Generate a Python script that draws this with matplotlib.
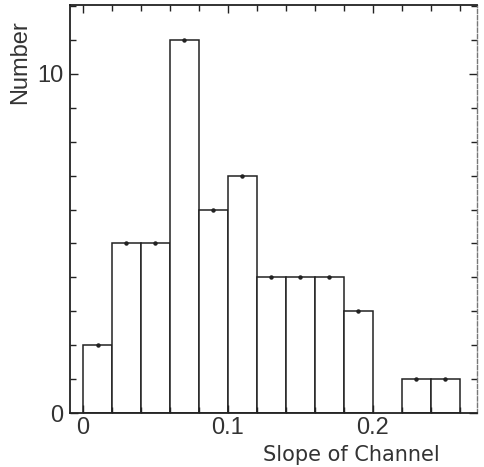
import matplotlib.pyplot as plt
import numpy as np

# histogram of channel slopes
bin_edges = [0.0, 0.02, 0.04, 0.06, 0.08, 0.10, 0.12, 0.14, 0.16, 0.18, 0.20, 0.22, 0.24, 0.26]
counts = [2, 5, 5, 11, 6, 7, 4, 4, 4, 3, 0, 1, 1]
xtick_vals = [0, 0.1, 0.2]
xtick_labels = ["0", "0.1", "0.2"]
ytick_vals = [0, 10]
ytick_labels = ["0", "10"]

edges = np.array(bin_edges)
lefts = edges[:-1]
widths = np.diff(edges)
centers = lefts + widths / 2
counts = np.array(counts)

fig = plt.figure(figsize=(4.85, 4.67), dpi=100)
ax = fig.add_axes([0.1443, 0.1156, 0.8392, 0.8737])

ink = "#222222"
nz = counts > 0
ax.bar(lefts[nz], counts[nz], width=widths[nz], align="edge",
       facecolor="white", edgecolor=ink, linewidth=1.1)
ax.plot(centers[nz], counts[nz], ls="none", marker="o", ms=2.2, color=ink)

ax.set_xlim(-0.009, 0.272)
ax.set_ylim(0, 12.03)

ax.set_xticks(xtick_vals)
ax.set_xticklabels(xtick_labels)
ax.set_xticks(bin_edges, minor=True)
ax.set_yticks(ytick_vals)
ax.set_yticklabels(ytick_labels)
ax.set_yticks(np.arange(0, 13, 1), minor=True)

ax.tick_params(which="both", direction="in", top=True, right=True,
               color=ink, width=1.0)
ax.tick_params(which="major", length=6, labelsize=17, labelcolor="#333333",
               labelfontfamily="Liberation Sans")
ax.tick_params(axis="x", which="major", pad=3)
ax.tick_params(axis="y", which="major", pad=5)
ax.tick_params(which="minor", length=4)

for side in ["left", "bottom", "top"]:
    ax.spines[side].set_color(ink)
    ax.spines[side].set_linewidth(1.3)
ax.spines["right"].set_color("#777777")
ax.spines["right"].set_linestyle((0, (3, 1.5)))
ax.spines["right"].set_linewidth(1.0)

fig.text(0.042, 0.867, "Number", rotation=90, ha="center", va="center",
         fontsize=17, family="Liberation Sans", color="#333333")
fig.text(0.907, 0.025, "Slope of Channel", ha="right", va="center",
         fontsize=15, color="#333333")

fig.savefig("out.png", dpi=100)
